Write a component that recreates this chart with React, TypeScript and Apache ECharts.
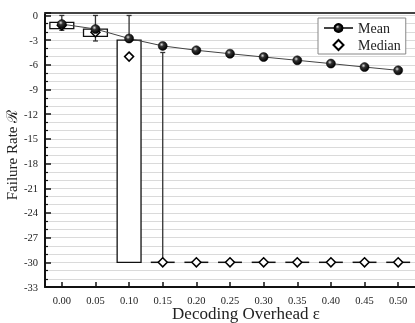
import React, { useEffect, useRef } from "react";
import * as echarts from "echarts";

const categories = ["0.00", "0.05", "0.10", "0.15", "0.20", "0.25", "0.30", "0.35", "0.40", "0.45", "0.50"];
const meanValues = [-1.05, -1.65, -2.8, -3.7, -4.23, -4.65, -5.05, -5.45, -5.85, -6.27, -6.67];
const medianValues = [-1.2, -2.05, -5.0, -30, -30, -30, -30, -30, -30, -30, -30];
const whiskerLow = [-1.8, -3.1, -30, -30, -30, -30, -30, -30, -30, -30, -30];
const boxLow = [-1.6, -2.55, -30, -30, -30, -30, -30, -30, -30, -30, -30];
const boxHigh = [-0.85, -1.65, -3.0, -30, -30, -30, -30, -30, -30, -30, -30];
const whiskerHigh = [0, 0, 0, -4.5, -30, -30, -30, -30, -30, -30, -30];

const FONT = "'Liberation Serif', 'Times New Roman', 'DejaVu Serif', serif";
const DIAMOND_ICON = "path://M5 0 L10 5 L5 10 L0 5 Z";

export default function App() {
  const ref = useRef<HTMLDivElement>(null);
  useEffect(() => {
    if (!ref.current) return;
    const chart = echarts.init(ref.current, undefined, { renderer: "svg" });
    const boxData = categories.map((_, i) => [i, whiskerLow[i], boxLow[i], boxHigh[i], whiskerHigh[i]]);
    const sphere = {
      type: "radial",
      x: 0.38,
      y: 0.35,
      r: 0.65,
      colorStops: [
        { offset: 0, color: "#e0e0e0" },
        { offset: 0.35, color: "#333" },
        { offset: 1, color: "#000" },
      ],
    };
    chart.setOption({
      animation: false,
      grid: { left: 45, right: 0, top: 13, bottom: 36, containLabel: false, outerBoundsMode: "none" },
      legend: {
        orient: "vertical",
        left: 318,
        top: 18,
        padding: [2, 5, 1, 5],
        itemGap: 1,
        itemWidth: 29,
        itemHeight: 10,
        symbolKeepAspect: true,
        borderColor: "#888",
        borderWidth: 1,
        backgroundColor: "#fff",
        borderRadius: 0,
        textStyle: { fontFamily: FONT, fontSize: 14, color: "#222", lineHeight: 16 },
        data: ["Mean", { name: "Median", icon: DIAMOND_ICON }],
      },
      xAxis: [
        {
          type: "category",
          data: categories,
          boundaryGap: true,
          position: "bottom",
          name: "Decoding Overhead ε",
          nameLocation: "middle",
          nameGap: 18,
          nameMoveOverlap: false,
          nameTextStyle: { fontFamily: FONT, fontSize: 17, lineHeight: 17, color: "#222", padding: [0, 0, 0, 32] },
          axisLine: { show: true, onZero: false, lineStyle: { color: "#111", width: 2 } },
          axisTick: { show: true, inside: true, alignWithLabel: true, length: 5, lineStyle: { color: "#111", width: 1.5 } },
          axisLabel: { fontFamily: FONT, fontSize: 10.5, lineHeight: 10, color: "#222", margin: 8 },
          splitLine: { show: false },
        },
        {
          type: "category",
          data: categories,
          position: "top",
          axisLine: { show: true, onZero: false, lineStyle: { color: "#444", width: 2 } },
          axisTick: { show: false },
          axisLabel: { show: false },
          splitLine: { show: false },
        },
      ],
      yAxis: {
        type: "value",
        min: -33,
        max: 0.3,
        interval: 3,
        name: "Failure Rate ℛ",
        nameLocation: "middle",
        nameGap: 26,
        nameMoveOverlap: false,
        nameTextStyle: { fontFamily: FONT, fontSize: 15, color: "#222", padding: [0, 10, 0, 0] },
        axisLine: { show: true, onZero: false, lineStyle: { color: "#111", width: 2 } },
        axisTick: { show: true, inside: true, length: 6, lineStyle: { color: "#111", width: 1.5 } },
        minorTick: { show: true, splitNumber: 3, length: 3, lineStyle: { color: "#111", width: 1.2 } },
        axisLabel: {
          fontFamily: FONT,
          fontSize: 10.5,
          color: "#222",
          margin: 7,
          showMaxLabel: false,
          formatter: (v: number) => (Math.abs(v - 0.3) < 1e-6 ? "" : String(Math.round(v))),
        },
        splitLine: { show: true, lineStyle: { color: "#dadada", width: 1.2 } },
        minorSplitLine: { show: true, lineStyle: { color: "#dadada", width: 1.2 } },
      },
      series: [
        {
          type: "custom",
          name: "Box",
          data: boxData,
          z: 2,
          encode: { x: 0, y: [1, 2, 3, 4] },
          renderItem: (params: any, api: any) => {
            const i = api.value(0);
            const lo = api.value(1);
            const q1 = api.value(2);
            const q3 = api.value(3);
            const hi = api.value(4);
            const w = api.size([1, 0])[0] * 0.71;
            const cx = api.coord([i, q3])[0];
            const yq3 = api.coord([i, q3])[1];
            const yq1 = api.coord([i, q1])[1];
            const yhi = api.coord([i, hi])[1];
            const ylo = api.coord([i, lo])[1];
            const cap = 2.5;
            const wStyle = { stroke: "#333", lineWidth: 1.3 };
            const children: any[] = [];
            if (yhi < yq3 - 0.5) {
              children.push({ type: "line", shape: { x1: cx, y1: yhi, x2: cx, y2: yq3 }, style: wStyle });
              children.push({ type: "line", shape: { x1: cx - cap, y1: yhi, x2: cx + cap, y2: yhi }, style: wStyle });
            }
            if (ylo > yq1 + 0.5) {
              children.push({ type: "line", shape: { x1: cx, y1: yq1, x2: cx, y2: ylo }, style: wStyle });
              children.push({ type: "line", shape: { x1: cx - cap, y1: ylo, x2: cx + cap, y2: ylo }, style: wStyle });
            }
            if (yq1 - yq3 > 0.5) {
              children.push({
                type: "rect",
                shape: { x: cx - w / 2, y: yq3, width: w, height: yq1 - yq3 },
                style: { fill: "#fff", stroke: "#111", lineWidth: 1.3 },
              });
            } else {
              children.push({
                type: "line",
                shape: { x1: cx - w / 2, y1: yq3, x2: cx + w / 2, y2: yq3 },
                style: { stroke: "#111", lineWidth: 1.5 },
              });
            }
            return { type: "group", children };
          },
        },
        {
          type: "scatter",
          name: "Median",
          data: medianValues,
          z: 4,
          symbol: "diamond",
          symbolSize: 9,
          itemStyle: { color: "#fff", borderColor: "#000", borderWidth: 1.5, opacity: 1 },
        },
        {
          type: "line",
          name: "Mean",
          data: meanValues,
          z: 5,
          symbol: "circle",
          symbolSize: 9,
          lineStyle: { color: "#444", width: 1 },
          itemStyle: { color: sphere, borderColor: "#000", borderWidth: 0.5 },
        },
      ],
    });
    return () => chart.dispose();
  }, []);
  return <div ref={ref} style={{ position: "fixed", left: 0, top: 0, width: 415, height: 323 }} />;
}
